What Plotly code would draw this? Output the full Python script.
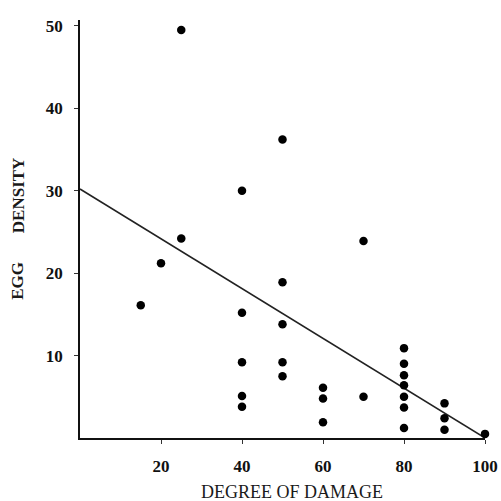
import plotly.graph_objects as go

# Field observations: degree of damage (%) vs. egg density
damage = [15, 20, 25, 25, 40, 40, 40, 40, 40, 50, 50, 50, 50, 50,
          60, 60, 60, 70, 70, 80, 80, 80, 80, 80, 80, 80, 90, 90, 90, 100]
egg_density = [16.1, 21.2, 49.5, 24.2, 30.0, 15.2, 9.2, 5.1, 3.8,
               36.2, 18.9, 13.8, 9.2, 7.5, 6.1, 4.8, 1.9, 23.9, 5.0,
               10.9, 9.0, 7.6, 6.4, 5.0, 3.7, 1.2, 4.2, 2.4, 1.0, 0.5]

# Fitted regression line (endpoints of the fit over the damage range)
fit_x = [0, 100]
fit_y = [30.2, 0.0]

x_ticks = [20, 40, 60, 80, 100]
y_ticks = [10, 20, 30, 40, 50]

serif = "Liberation Serif"

fig = go.Figure()
fig.add_trace(go.Scatter(
    x=fit_x, y=fit_y, mode="lines",
    line=dict(color="#222222", width=1.5),
    hoverinfo="skip", cliponaxis=False,
))
fig.add_trace(go.Scatter(
    x=damage, y=egg_density, mode="markers",
    marker=dict(color="black", size=8.5, line=dict(width=0)),
    cliponaxis=False,
))

axis_common = dict(
    showgrid=False, zeroline=False, showline=True, automargin=False,
    linecolor="#111111", linewidth=1.5,
    ticks="outside", ticklen=4, tickwidth=1, tickcolor="#333333",
    tickfont=dict(family=serif, size=17, color="#111111", weight="bold"),
)

fig.update_xaxes(range=[0, 100], tickvals=x_ticks, ticklabelstandoff=8,
                 **axis_common)
fig.update_yaxes(range=[0, 50.7], tickvals=y_ticks, ticklabelstandoff=8,
                 **axis_common)

title_font = dict(family=serif, size=18, color="#1a1a1a")
fig.update_layout(
    width=501, height=501,
    margin=dict(l=80, r=16, t=20, b=63),
    paper_bgcolor="white", plot_bgcolor="white",
    showlegend=False,
    annotations=[
        dict(text="DEGREE OF DAMAGE", xref="paper", yref="paper",
             x=0.523, y=-0.129, showarrow=False, font=title_font,
             xanchor="center", yanchor="middle"),
        dict(text="<b>EGG</b>", xref="paper", yref="paper",
             x=-0.153, y=0.376, showarrow=False,
             font=dict(family=serif, size=17, color="#1a1a1a"),
             textangle=-90, xanchor="center", yanchor="middle"),
        dict(text="<b>DENSITY</b>", xref="paper", yref="paper",
             x=-0.153, y=0.581, showarrow=False,
             font=dict(family=serif, size=17, color="#1a1a1a"),
             textangle=-90, xanchor="center", yanchor="middle"),
    ],
)

fig.write_html("out.html")
